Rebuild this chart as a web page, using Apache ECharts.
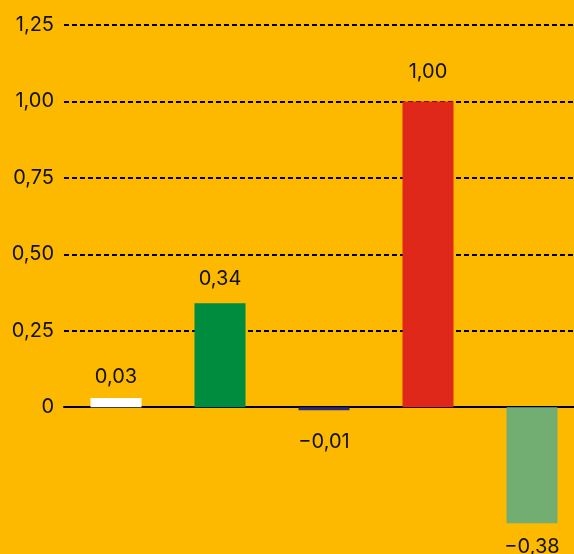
<!DOCTYPE html>
<html>
<head>
<meta charset="utf-8">
<script src="https://cdn.jsdelivr.net/npm/echarts@6/dist/echarts.min.js"></script>
<style>
html,body{margin:0;padding:0;background:#FCB900;overflow:hidden;width:574px;height:554px;}
#chart{width:584px;height:560px;}
</style>
</head>
<body>
<div id="chart"></div>
<script>
var categories = ['A', 'B', 'C', 'D', 'E'];
var values = [0.03, 0.34, -0.01, 1.00, -0.38];
var barColors = ['#FFFFFF', '#008C3F', '#2D2A7A', '#E0281A', '#72AD71'];
var gridTicks = [0.25, 0.50, 0.75, 1.00, 1.25];
var labelDistances = [11, 14, 22, 19, 14];

function fmt(v) {
  if (v === 0) return '0';
  var s = Math.abs(v).toFixed(2).replace('.', ',');
  return (v < 0 ? '\u2212' : '') + s;
}

var chart = echarts.init(document.getElementById('chart'), null, {renderer: 'canvas'});
var font = 'Inter, "Noto Sans", sans-serif';
chart.setOption({
  backgroundColor: '#FCB900',
  animation: false,
  grid: {left: 64, right: 0, top: 25, bottom: 0, containLabel: false},
  xAxis: {
    type: 'category',
    data: categories,
    axisLine: {show: true, onZero: true, lineStyle: {color: '#000', width: 2}},
    axisTick: {show: false},
    axisLabel: {show: false},
    splitLine: {show: false}
  },
  yAxis: {
    type: 'value',
    min: -0.5,
    max: 1.25,
    interval: 0.25,
    axisLine: {show: false},
    axisTick: {show: false},
    splitLine: {show: false},
    axisLabel: {
      margin: 10,
      color: '#111',
      fontSize: 20,
      fontFamily: font,
      formatter: function (v) { return v < 0 ? '' : fmt(v); }
    }
  },
  series: [{
    type: 'bar',
    data: values.map(function (v, i) {
      return {value: v, itemStyle: {color: barColors[i]}, label: {distance: labelDistances[i]}};
    }),
    barWidth: 51,
    z: 3,
    label: {
      show: true,
      position: 'outside',
      distance: 14,
      color: '#111',
      fontSize: 20,
      fontFamily: font,
      formatter: function (p) { return fmt(p.value); }
    },
    markLine: {
      silent: true,
      symbol: ['none', 'none'],
      z: 1,
      label: {show: false},
      lineStyle: {color: '#000', type: [5, 3], width: 2},
      data: gridTicks.map(function (t) { return {yAxis: t}; })
    }
  }]
});
</script>
</body>
</html>
